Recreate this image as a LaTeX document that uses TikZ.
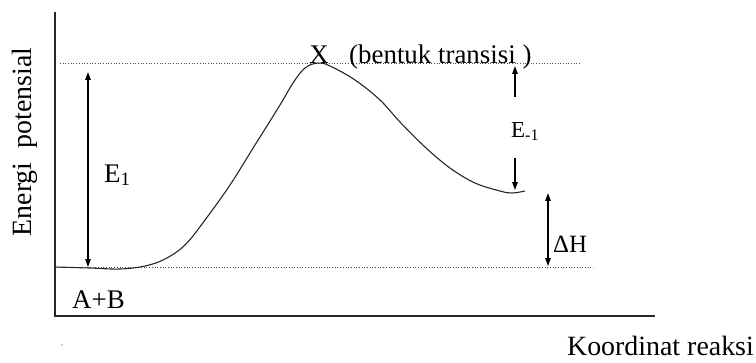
\documentclass[tikz,border=0pt]{standalone}
\usepackage{fontspec}
\setmainfont{Liberation Serif}
\usetikzlibrary{arrows.meta}
\tikzset{
  axisline/.style={line width=1.4pt, black!85},
  guide/.style={dotted, line width=0.7pt, black!70},
  dim/.style={line width=1.3pt, {Triangle[length=8pt,width=5.5pt]}-{Triangle[length=8pt,width=5.5pt]}},
  dimone/.style={line width=1.3pt, -{Triangle[length=8pt,width=5.5pt]}},
  curveline/.style={line width=1.1pt, black!85},
  lbl/.style={inner sep=0pt, font=\fontsize{27}{30}\selectfont},
  biglbl/.style={inner sep=0pt, font=\fontsize{28}{32}\selectfont}
}
\begin{document}
\begin{tikzpicture}[x=1bp,y=-1bp]
\useasboundingbox (0,0) rectangle (756,362);
% axes
\coordinate (yt) at (55,12);
\coordinate (o) at (55,316);
\coordinate (xr) at (655,316);
\draw[axisline] (yt) -- (o) -- (xr);
% guide lines
\coordinate (tl) at (60,63);
\coordinate (tr) at (580,63);
\coordinate (bl) at (55,267);
\coordinate (br) at (593,267);
\draw[guide] (tl) -- (tr);
\draw[guide] (bl) -- (br);
% curve
\draw[curveline] plot[smooth, tension=0.6] coordinates {
 (55,267) (90,268) (120,269) (145,266) (165,259) (185,245) (205,220)
 (230,185) (255,145) (280,105) (293,83) (305,68) (318,63) (330,66)
 (355,80) (380,100) (400,122) (425,147) (450,168) (475,183) (500,191)
 (512,193) (525,191)};
% E1
\coordinate (e1t) at (88,72);
\coordinate (e1b) at (88,267);
\draw[dim] (e1t) -- (e1b);
\node[lbl, anchor=base west] (E1) at (104,182) {E\textsubscript{1}};
% E-1
\coordinate (em1a) at (515,97);
\coordinate (em1b) at (515,66);
\coordinate (em1c) at (515,158);
\coordinate (em1d) at (515,190);
\draw[dimone] (em1a) -- (em1b);
\draw[dimone] (em1c) -- (em1d);
\node[inner sep=0pt, anchor=base west, font=\fontsize{23}{26}\selectfont] (Em1) at (511,137) {E\textsubscript{-1}};
% Delta H
\coordinate (dht) at (548,193);
\coordinate (dhb) at (548,266);
\draw[dim] (dht) -- (dhb);
\node[inner sep=0pt, anchor=base west, font=\fontsize{25}{28}\selectfont] (DH) at (553,252) {ΔH};
% labels
\node[lbl, anchor=base] (X) at (319,63) {X};
\node[lbl, anchor=base west] (bt) at (349,63) {(bentuk transisi )};
\node[lbl, anchor=base west] (AB) at (72,308) {A+B};
\node[biglbl, rotate=90] (ylab) at (25,142) {Energi\ \ potensial};
\node[biglbl, anchor=base east] (xlab) at (754,355) {Koordinat reaksi};
\fill[black!40] (62,345) circle (0.9);
\end{tikzpicture}
\end{document}
